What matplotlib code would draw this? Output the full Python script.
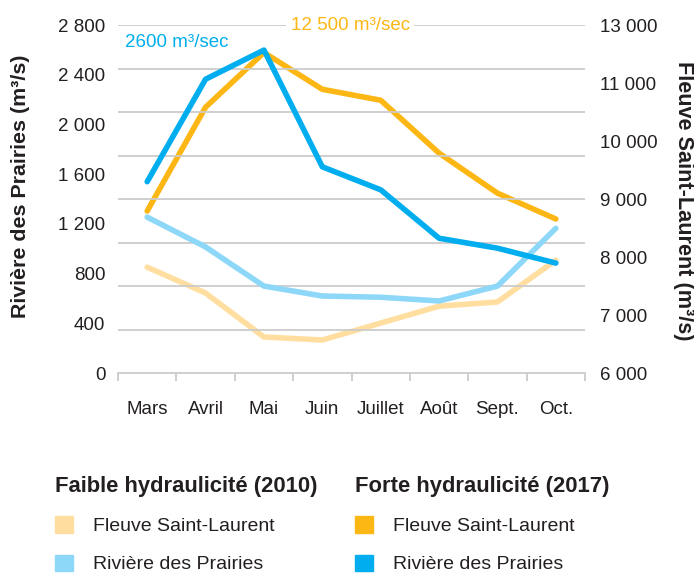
import numpy as np
from matplotlib import pyplot as plt
from matplotlib.patches import Patch

plt.rcParams['font.family'] = ['Liberation Sans', 'DejaVu Sans']

months = ['Mars', 'Avril', 'Mai', 'Juin', 'Juillet', 'Août', 'Sept.', 'Oct.']

# Rivière des Prairies (m3/s) - axe de gauche
prairies_2010 = [1255, 1015, 700, 620, 610, 580, 700, 1165]
prairies_2017 = [1540, 2365, 2600, 1660, 1475, 1085, 1005, 885]

# Fleuve Saint-Laurent (m3/s) - axe de droite
laurent_2010 = [8130, 7610, 6725, 6665, 7005, 7345, 7430, 8270]
laurent_2017 = [9260, 11350, 12450, 11710, 11490, 10425, 9620, 9100]

left_ticks = [0, 400, 800, 1200, 1600, 2000, 2400, 2800]
right_tick_labels = ['6 000', '7 000', '8 000', '9 000', '10 000', '11 000', '13 000']

C_DARK_BLUE = '#00aeef'
C_LIGHT_BLUE = '#8dd8f8'
C_ORANGE = '#fdb714'
C_LIGHT_ORANGE = '#ffdea0'
C_TEXT = '#231f20'
C_GRID = '#cccccc'

fig = plt.figure(figsize=(6.94, 5.73), dpi=100)
ax = fig.add_axes([0.170, 0.349, 0.673, 0.607])
ax2 = ax.twinx()

x = np.arange(len(months)) + 0.5

# gridlines (9 lignes egales)
for g in np.linspace(0, 2800, 9)[1:]:
    ax.axhline(g, color=C_GRID, lw=1.3, zorder=0)

ax2.plot(x, laurent_2010, color=C_LIGHT_ORANGE, lw=4, solid_capstyle='round', zorder=2)
ax.plot(x, prairies_2010, color=C_LIGHT_BLUE, lw=4, solid_capstyle='round', zorder=2)
ax.plot(x, prairies_2017, color=C_DARK_BLUE, lw=4, solid_capstyle='round', zorder=3)
ax2.plot(x, laurent_2017, color=C_ORANGE, lw=4, solid_capstyle='round', zorder=3)

ax.set_xlim(0, len(months))
ax.set_ylim(0, 2800)
ax2.set_ylim(6000, 13000)

for a in (ax, ax2):
    for s in ['top', 'left', 'right']:
        a.spines[s].set_visible(False)
ax.spines['bottom'].set_color(C_GRID)
ax.spines['bottom'].set_linewidth(1.3)
ax2.spines['bottom'].set_visible(False)

ax.set_xticks(np.arange(len(months) + 1))
ax.set_xticklabels([])
ax.set_xticks(x, minor=True)
ax.set_xticklabels(months, minor=True, fontsize=13.5, color=C_TEXT)
ax.tick_params(axis='x', which='major', length=6, width=1.3, color=C_GRID, direction='out')
ax.tick_params(axis='x', which='minor', length=0, pad=20)

ax.set_yticks(left_ticks)
ax.set_yticklabels([f'{v:,}'.replace(',', ' ') for v in left_ticks], fontsize=13.5, color=C_TEXT)
ax.tick_params(axis='y', length=0, pad=9)

ax2.set_yticks(np.linspace(6000, 13000, len(right_tick_labels)))
ax2.set_yticklabels(right_tick_labels, fontsize=13.5, color=C_TEXT)
ax2.tick_params(axis='y', length=0, pad=11)

ax.set_ylabel('Rivière des Prairies (m³/s)', fontsize=15.4, fontweight='bold', color=C_TEXT, va='center')
ax.yaxis.set_label_coords((21 - 118) / 467, 0.537)
ax2.set_ylabel('Fleuve Saint-Laurent (m³/s)', fontsize=15.6, fontweight='bold', color=C_TEXT,
               rotation=270, va='center')
ax2.yaxis.set_label_coords((683 - 118) / 467, 0.495)

ax.text(0.015, 0.951, '2600 m³/sec', transform=ax.transAxes, fontsize=13.5,
        color=C_DARK_BLUE, ha='left', va='center', zorder=5)
ax.text(0.497, 1.0, '12 500 m³/sec', transform=ax.transAxes, fontsize=13.5,
        color=C_ORANGE, ha='center', va='center', zorder=5,
        bbox=dict(facecolor='white', edgecolor='none', pad=3))
ax.set_zorder(ax2.get_zorder() + 1)
ax.patch.set_visible(False)

leg_kw = dict(loc='upper left', frameon=False, fontsize=14, handlelength=0.9, handleheight=0.9,
              handletextpad=1.05, labelspacing=1.0, borderpad=0, borderaxespad=0,
              alignment='left', title_fontproperties={'weight': 'bold', 'size': 15.8})

h1 = [Patch(color=C_LIGHT_ORANGE), Patch(color=C_LIGHT_BLUE)]
h2 = [Patch(color=C_ORANGE), Patch(color=C_DARK_BLUE)]
labels = ['Fleuve Saint-Laurent', 'Rivière des Prairies']
l1 = fig.legend(h1, labels, title='Faible hydraulicité (2010)',
                bbox_to_anchor=(55 / 694, 1 - 476 / 573), **leg_kw)
l2 = fig.legend(h2, labels, title='Forte hydraulicité (2017)',
                bbox_to_anchor=(355 / 694, 1 - 476 / 573), **leg_kw)
for leg in (l1, l2):
    leg.get_title().set_color(C_TEXT)
    for t in leg.get_texts():
        t.set_color(C_TEXT)

plt.savefig('out.png', dpi=100)
